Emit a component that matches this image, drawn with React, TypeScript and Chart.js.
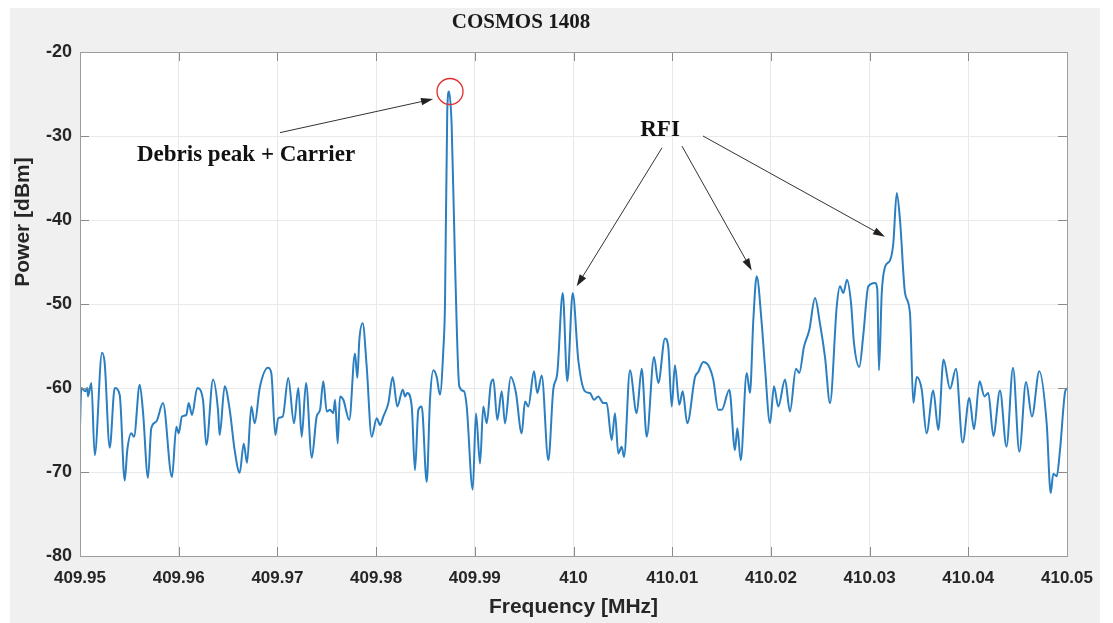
import React, { useEffect, useRef } from "react";
import { Chart, registerables } from "chart.js";

Chart.register(...registerables);

// ---- Data ----
const freqMHz: number[] = [
  409.95, 409.95013, 409.95054, 409.95074, 409.95081, 409.95115, 409.95149, 409.95223, 409.9525, 409.95301,
  409.95352, 409.95402, 409.95453, 409.95479, 409.9552, 409.95547, 409.95605, 409.95638, 409.95689, 409.95722,
  409.95773, 409.95841, 409.95932, 409.95976, 409.96, 409.96033, 409.96077, 409.96101, 409.96135, 409.96188,
  409.96246, 409.9628, 409.96348, 409.96398, 409.96415, 409.96466, 409.96517, 409.96567, 409.96618, 409.96659,
  409.96692, 409.96736, 409.9677, 409.96821, 409.96905, 409.96938, 409.96979, 409.97009, 409.97054, 409.9711,
  409.97168, 409.97212, 409.97246, 409.9729, 409.97348, 409.97398, 409.97432, 409.97465, 409.975, 409.97533,
  409.97566, 409.97584, 409.97611, 409.97634, 409.97668, 409.97728, 409.97786, 409.9781, 409.9783, 409.97864,
  409.97905, 409.97955, 409.98006, 409.9804, 409.98073, 409.98124, 409.98168, 409.98215, 409.9827, 409.98293,
  409.98316, 409.98361, 409.98394, 409.98428, 409.98462, 409.98513, 409.98546, 409.9858, 409.98614, 409.98647,
  409.98681, 409.98698, 409.98721, 409.98739, 409.98766, 409.98799, 409.98843, 409.98891, 409.98918, 409.98979,
  409.99012, 409.99053, 409.99086, 409.99121, 409.99161, 409.99188, 409.99228, 409.99273, 409.99306, 409.99364,
  409.99417, 409.99475, 409.99509, 409.99542, 409.996, 409.99633, 409.99678, 409.99745, 409.99795, 409.99836,
  409.99891, 409.99937, 409.99992, 410.00049, 410.00117, 410.00167, 410.00208, 410.00251, 410.00302, 410.00336,
  410.00387, 410.0042, 410.00454, 410.00488, 410.00512, 410.00572, 410.0064, 410.00691, 410.00742, 410.00816,
  410.00859, 410.00927, 410.0096, 410.00995, 410.01028, 410.01072, 410.01106, 410.01153, 410.01231, 410.01264,
  410.01315, 410.01366, 410.01416, 410.01467, 410.01502, 410.01579, 410.01636, 410.0166, 410.01694, 410.01755,
  410.01788, 410.01822, 410.01856, 410.01907, 410.0194, 410.01991, 410.02031, 410.02075, 410.02143, 410.02193,
  410.02254, 410.02288, 410.02335, 410.02389, 410.02447, 410.02497, 410.02548, 410.02599, 410.02667, 410.027,
  410.02734, 410.02771, 410.02812, 410.02842, 410.02896, 410.02936, 410.02987, 410.03055, 410.03078, 410.03095,
  410.03123, 410.03156, 410.03207, 410.0324, 410.03275, 410.03308, 410.03359, 410.03409, 410.03443, 410.03477,
  410.03528, 410.03577, 410.03645, 410.03696, 410.03749, 410.03815, 410.03875, 410.03943, 410.0401, 410.04058,
  410.04114, 410.04164, 410.04203, 410.04254, 410.04321, 410.04387, 410.04453, 410.04517, 410.04585, 410.04645,
  410.04719, 410.04794, 410.04835, 410.04861, 410.04896, 410.04929, 410.0498, 410.05,
];

const powerDbm: number[] = [
  -64.6, -60.0, -60.4, -60.0, -61.0, -59.4, -68.0, -55.8, -57.0, -67.1,
  -60.0, -60.8, -71.0, -67.4, -65.4, -65.8, -59.6, -62.8, -70.7, -64.8,
  -64.0, -61.8, -70.6, -64.6, -65.4, -63.4, -63.2, -61.8, -63.2, -60.0,
  -61.4, -66.8, -59.0, -62.6, -65.6, -59.8, -62.6, -67.4, -70.1, -66.6,
  -68.9, -62.2, -64.2, -60.0, -57.6, -58.2, -65.6, -63.6, -63.4, -58.8,
  -64.2, -60.0, -65.8, -59.4, -68.3, -63.4, -62.6, -59.2, -62.8, -62.6,
  -63.0, -61.4, -66.6, -61.0, -61.4, -63.8, -55.9, -58.8, -54.3, -52.3,
  -57.5, -65.8, -63.6, -64.4, -63.4, -61.8, -58.7, -62.2, -60.2, -61.0,
  -60.6, -62.2, -69.8, -62.6, -62.2, -71.2, -61.4, -57.9, -58.7, -60.8,
  -55.5, -50.0, -27.0, -24.7, -28.9, -44.8, -59.8, -60.4, -62.2, -72.1,
  -63.0, -69.0, -62.2, -64.2, -59.6, -59.0, -63.8, -60.4, -64.2, -58.7,
  -60.6, -65.4, -61.6, -62.2, -58.0, -60.6, -58.5, -68.6, -60.2, -58.2,
  -48.7, -59.2, -48.7, -56.7, -60.4, -60.6, -61.4, -61.0, -61.8, -61.8,
  -66.2, -63.0, -67.8, -67.0, -68.2, -57.9, -63.0, -57.7, -65.8, -56.3,
  -59.4, -54.1, -55.1, -62.2, -57.3, -62.0, -60.4, -64.2, -58.7, -58.1,
  -56.9, -57.3, -59.0, -62.6, -62.6, -60.2, -67.4, -64.8, -68.6, -58.2,
  -60.6, -51.9, -46.7, -52.3, -57.5, -64.2, -59.8, -62.2, -59.0, -62.8,
  -57.7, -58.2, -55.1, -53.1, -49.3, -52.3, -56.3, -61.8, -50.3, -47.9,
  -48.7, -47.1, -49.9, -54.7, -57.5, -53.7, -47.9, -47.5, -48.3, -57.9,
  -48.7, -45.6, -44.8, -42.8, -36.8, -40.0, -48.7, -51.1, -61.8, -58.7,
  -60.2, -65.4, -60.3, -65.0, -56.6, -60.1, -57.7, -66.5, -61.2, -64.9,
  -59.2, -61.0, -60.6, -65.7, -60.3, -67.0, -57.6, -67.6, -59.3, -63.4,
  -58.0, -64.2, -72.5, -70.2, -70.5, -67.4, -60.5, -60.0,
];

const xTickValues: number[] = [409.95, 409.96, 409.97, 409.98, 409.99, 410, 410.01, 410.02, 410.03, 410.04, 410.05];
const xTickLabels: string[] = ["409.95", "409.96", "409.97", "409.98", "409.99", "410", "410.01", "410.02", "410.03", "410.04", "410.05"];
const yTickValues: number[] = [-80, -70, -60, -50, -40, -30, -20];
const yTickLabels: string[] = ["-80", "-70", "-60", "-50", "-40", "-30", "-20"];

const chartTitle = "COSMOS 1408";
const xAxisTitle = "Frequency [MHz]";
const yAxisTitle = "Power [dBm]";
const debrisLabel = "Debris peak + Carrier";
const rfiLabel = "RFI";

// annotation anchors, in data coordinates
const debrisLabelAt = { x: 409.96682, y: -32.3 };
const debrisArrowFrom = { x: 409.97026, y: -29.6 };
const debrisArrowTo = { x: 409.98577, y: -25.6 };
const debrisCircleAt = { x: 409.98749, y: -24.7 };
const rfiLabelAt = { x: 410.00877, y: -29.3 };
const rfiArrowFrom = [
  { x: 410.00897, y: -31.4 },
  { x: 410.01099, y: -31.2 },
  { x: 410.01312, y: -30.0 },
];
const rfiArrowTo = [
  { x: 410.00032, y: -47.9 },
  { x: 410.01806, y: -46.0 },
  { x: 410.03156, y: -42.0 },
];

const LINE_COLOR = "#2b7fc1";
const TEXT_COLOR = "#262626";

function drawArrow(ctx: CanvasRenderingContext2D, x1: number, y1: number, x2: number, y2: number) {
  const ang = Math.atan2(y2 - y1, x2 - x1);
  const head = 12;
  const half = 3.8;
  ctx.beginPath();
  ctx.moveTo(x1, y1);
  ctx.lineTo(x2 - Math.cos(ang) * head * 0.8, y2 - Math.sin(ang) * head * 0.8);
  ctx.stroke();
  ctx.beginPath();
  ctx.moveTo(x2, y2);
  ctx.lineTo(x2 - Math.cos(ang) * head - Math.sin(ang) * half, y2 - Math.sin(ang) * head + Math.cos(ang) * half);
  ctx.lineTo(x2 - Math.cos(ang) * head + Math.sin(ang) * half, y2 - Math.sin(ang) * head - Math.cos(ang) * half);
  ctx.closePath();
  ctx.fill();
}

const decorPlugin = {
  id: "decor",
  beforeDraw(chart: any) {
    const { ctx, width, height, chartArea: a } = chart;
    ctx.save();
    ctx.fillStyle = "#ffffff";
    ctx.fillRect(0, 0, width, height);
    ctx.fillStyle = "#f0f0f0";
    ctx.fillRect(10, 8, width - 23, height - 8);
    ctx.fillStyle = "#ffffff";
    ctx.fillRect(a.left, a.top, a.right - a.left, a.bottom - a.top);
    ctx.restore();
  },
  afterDraw(chart: any) {
    const { ctx, chartArea: a, scales } = chart;
    const xs = scales.x;
    const ys = scales.y;
    const px = (p: { x: number; y: number }) => [xs.getPixelForValue(p.x), ys.getPixelForValue(p.y)];
    ctx.save();

    // inner tick marks and axes box
    ctx.strokeStyle = "#8a8a8a";
    ctx.lineWidth = 1;
    ctx.beginPath();
    xTickValues.forEach((v) => {
      const x = Math.round(xs.getPixelForValue(v)) + 0.5;
      ctx.moveTo(x, a.bottom);
      ctx.lineTo(x, a.bottom - 9);
      ctx.moveTo(x, a.top);
      ctx.lineTo(x, a.top + 9);
    });
    yTickValues.forEach((v) => {
      const y = Math.round(ys.getPixelForValue(v)) + 0.5;
      ctx.moveTo(a.left, y);
      ctx.lineTo(a.left + 9, y);
      ctx.moveTo(a.right, y);
      ctx.lineTo(a.right - 9, y);
    });
    ctx.stroke();
    ctx.strokeStyle = "#9c9c9c";
    ctx.strokeRect(Math.round(a.left) + 0.5, Math.round(a.top) + 0.5, Math.round(a.right - a.left), Math.round(a.bottom - a.top));

    // title & axis titles
    ctx.fillStyle = "#1a1a1a";
    ctx.textAlign = "center";
    ctx.textBaseline = "middle";
    ctx.font = 'bold 21px "Liberation Serif", "Times New Roman", serif';
    ctx.fillText(chartTitle, 521, 23);

    ctx.fillStyle = TEXT_COLOR;
    ctx.font = 'bold 21px "Liberation Sans", Arial, sans-serif';
    ctx.fillText(xAxisTitle, (a.left + a.right) / 2, 607);
    ctx.save();
    ctx.translate(23, 222);
    ctx.rotate(-Math.PI / 2);
    ctx.fillText(yAxisTitle, 0, 0);
    ctx.restore();

    // annotations
    ctx.fillStyle = "#111111";
    ctx.font = 'bold 23px "Liberation Serif", "Times New Roman", serif';
    const [dlx, dly] = px(debrisLabelAt);
    ctx.fillText(debrisLabel, dlx, dly);
    const [rlx, rly] = px(rfiLabelAt);
    ctx.fillText(rfiLabel, rlx, rly);

    ctx.strokeStyle = "#333333";
    ctx.fillStyle = "#222222";
    ctx.lineWidth = 1;
    {
      const [x1, y1] = px(debrisArrowFrom);
      const [x2, y2] = px(debrisArrowTo);
      drawArrow(ctx, x1, y1, x2, y2);
    }
    rfiArrowFrom.forEach((f, i) => {
      const [x1, y1] = px(f);
      const [x2, y2] = px(rfiArrowTo[i]);
      drawArrow(ctx, x1, y1, x2, y2);
    });

    const [cx, cy] = px(debrisCircleAt);
    ctx.strokeStyle = "#e03030";
    ctx.lineWidth = 1.3;
    ctx.beginPath();
    ctx.arc(cx, cy, 13, 0, Math.PI * 2);
    ctx.stroke();

    ctx.restore();
  },
};

export default function App() {
  const canvasRef = useRef<HTMLCanvasElement>(null);

  useEffect(() => {
    document.body.style.margin = "0";
    const canvas = canvasRef.current;
    if (!canvas) return;
    const points = freqMHz.map((f, i) => ({ x: f, y: powerDbm[i] }));
    const chart = new Chart(canvas, {
      type: "line",
      data: {
        datasets: [
          {
            data: points,
            borderColor: LINE_COLOR,
            borderWidth: 2,
            pointRadius: 0,
            fill: false,
            cubicInterpolationMode: "monotone",
          },
        ],
      },
      options: {
        responsive: false,
        animation: false,
        events: [],
        layout: { padding: { left: 0, top: 52, right: 46, bottom: 0 } },
        plugins: { legend: { display: false }, tooltip: { enabled: false }, title: { display: false } },
        scales: {
          x: {
            type: "linear",
            min: 409.95,
            max: 410.05,
            afterBuildTicks: (s: any) => {
              s.ticks = xTickValues.map((v) => ({ value: v }));
            },
            afterFit: (s: any) => {
              s.height = 67;
            },
            ticks: {
              autoSkip: false,
              maxRotation: 0,
              padding: 12,
              color: TEXT_COLOR,
              font: { family: '"Liberation Sans", Arial, sans-serif', size: 17, weight: "bold" },
              callback: (v: any) => {
                const i = xTickValues.findIndex((t) => Math.abs(t - Number(v)) < 1e-7);
                return i >= 0 ? xTickLabels[i] : "";
              },
            },
            grid: { color: "#e9e9e9", drawTicks: false },
            border: { display: false },
          },
          y: {
            type: "linear",
            min: -80,
            max: -20,
            afterBuildTicks: (s: any) => {
              s.ticks = yTickValues.map((v) => ({ value: v }));
            },
            afterFit: (s: any) => {
              s.width = 80;
            },
            ticks: {
              autoSkip: false,
              padding: 8,
              color: TEXT_COLOR,
              font: { family: '"Liberation Sans", Arial, sans-serif', size: 18, weight: "bold" },
              callback: (v: any) => {
                const i = yTickValues.indexOf(Number(v));
                return i >= 0 ? yTickLabels[i] : "";
              },
            },
            grid: { color: "#e9e9e9", drawTicks: false },
            border: { display: false },
          },
        },
      },
      plugins: [decorPlugin],
    } as any);
    return () => chart.destroy();
  }, []);

  return (
    <div style={{ width: 1113, height: 623 }}>
      <canvas ref={canvasRef} width={1113} height={623} style={{ display: "block" }} />
    </div>
  );
}
